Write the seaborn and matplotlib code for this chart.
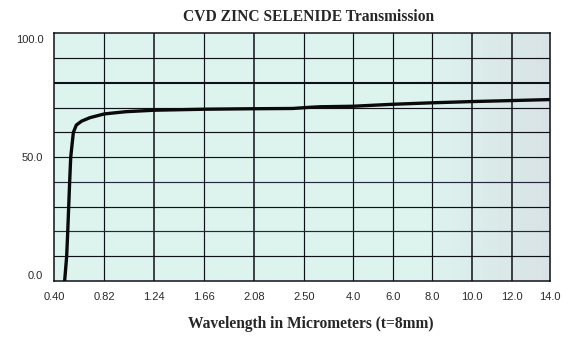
import numpy as np
import matplotlib
matplotlib.use("Agg")
import matplotlib.pyplot as plt
import seaborn as sns

# Transmission curve of CVD zinc selenide, 8 mm thick
wavelength = [0.487, 0.504, 0.513, 0.521, 0.529, 0.538, 0.560, 0.585, 0.630,
              0.700, 0.820, 1.00, 1.24, 1.66, 2.08, 2.40, 2.70, 3.00, 4.00,
              6.00, 8.00, 10.0, 12.0, 14.0]
transmission = [0.0, 10.0, 20.0, 30.0, 40.0, 50.0, 60.0, 63.0, 64.6,
                66.0, 67.5, 68.4, 69.0, 69.4, 69.6, 69.7, 70.2, 70.4, 70.6,
                71.4, 72.0, 72.5, 72.9, 73.3]

# Axis ticks (the wavelength axis is piecewise linear between its ticks)
x_ticks = [0.40, 0.82, 1.24, 1.66, 2.08, 2.50, 4.0, 6.0, 8.0, 10.0, 12.0, 14.0]
x_tick_labels = ["0.40", "0.82", "1.24", "1.66", "2.08", "2.50",
                 "4.0", "6.0", "8.0", "10.0", "12.0", "14.0"]
y_ticks = [0.0, 50.0, 100.0]
y_tick_labels = ["0.0", "50.0", "100.0"]

# relative widths of the axis segments between consecutive ticks
segment_widths = [50, 50, 50, 50, 50, 48.6, 40, 39.4, 40, 39.6, 38.4]
tick_pos = np.concatenate([[0.0], np.cumsum(segment_widths)])


def fwd(x):
    return np.interp(x, x_ticks, tick_pos, left=np.nan, right=np.nan)


def inv(p):
    return np.interp(p, tick_pos, x_ticks)


sns.set_style("white")
plt.rcParams["font.family"] = ["Liberation Sans", "DejaVu Sans"]

fig = plt.figure(figsize=(5.8, 3.47), dpi=100)
ax = fig.add_axes([0.0936, 0.1902, 0.8552, 0.7133])

# chart paper background: mint fading to grey on the right
grad = np.linspace(0, 1, 256)
w = np.clip((grad - 0.74) / 0.26, 0, 1)[None, :, None]
c0 = np.array([0.867, 0.957, 0.937])
c1 = np.array([0.851, 0.890, 0.898])
bg = c0 * (1 - w) + c1 * w
ax.imshow(bg, extent=[0, 1, 0, 1], transform=ax.transAxes, aspect="auto",
          zorder=0, interpolation="bilinear")

ax.set_xscale("function", functions=(fwd, inv))
ax.set_xlim(0.40, 14.0)
ax.set_ylim(0, 100)

# grid of the chart paper
grid_col = "#101018"
for xv in x_ticks[1:-1]:
    lw = 1.1 if xv in (1.24, 2.08, 10.0, 12.0) else 0.85
    ax.axvline(xv, color=grid_col, lw=lw, zorder=1)
for yv in range(10, 100, 10):
    lw = 1.5 if yv == 80 else 0.85
    col = "#26263e" if yv in (20, 40) else grid_col
    ax.axhline(yv, color=col, lw=lw, zorder=1)

sns.lineplot(x=wavelength, y=transmission, ax=ax, color="#0a0a0a",
             linewidth=2.4, sort=False, zorder=3)

ax.set_xticks(x_ticks)
ax.set_xticklabels(x_tick_labels)
ax.set_yticks([])
ax.tick_params(axis="x", length=0, pad=8, labelsize=8, labelcolor="#2a2a2a")
ax.minorticks_off()

y_offsets = [5, -1, -7]
for yv, lab, off in zip(y_ticks, y_tick_labels, y_offsets):
    ax.annotate(lab, xy=(0, yv), xycoords=("axes fraction", "data"),
                xytext=(-11, off), textcoords="offset pixels",
                ha="right", va="center", fontsize=8, color="#2a2a2a")

for sp in ax.spines.values():
    sp.set_color("#101018")
    sp.set_linewidth(1.1)

fig.text(0.532, 0.951, "CVD ZINC SELENIDE Transmission", ha="center",
         va="center", fontsize=11.2, fontweight="bold",
         family=["Liberation Serif", "DejaVu Serif"])
ax.set_xlabel("")
fig.text(0.536, 0.066, "Wavelength in Micrometers (t=8mm)", ha="center",
         va="center", fontsize=11.2, fontweight="bold",
         family=["Liberation Serif", "DejaVu Serif"])
ax.set_ylabel("")

fig.savefig("out.png", dpi=100)
